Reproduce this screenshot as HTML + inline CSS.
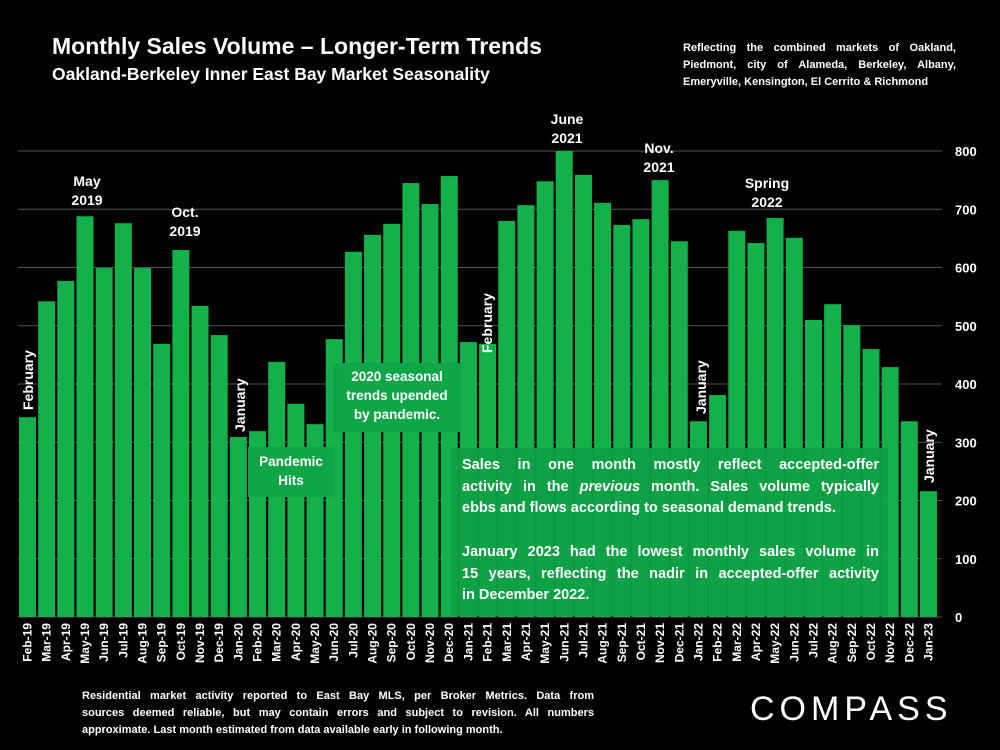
<!DOCTYPE html>
<html><head><meta charset="utf-8">
<style>
body{margin:0;background:#000;width:1000px;height:750px;overflow:hidden;font-family:"Liberation Sans",sans-serif;color:#fff}
svg{position:absolute;left:0;top:0}
.t{position:absolute;font-weight:bold}
.j{text-align:justify;text-align-last:justify;white-space:nowrap}
.l{white-space:nowrap}
</style></head><body>
<div class="t" style="left:52px;top:33px;font-size:23px">Monthly Sales Volume – Longer-Term Trends</div>
<div class="t" style="left:52px;top:64px;font-size:17.5px">Oakland-Berkeley Inner East Bay Market Seasonality</div>
<div class="t" style="left:683px;top:40px;width:273px;font-size:11px;line-height:17px"><div class="j">Reflecting the combined markets of Oakland,</div><div class="j">Piedmont, city of Alameda, Berkeley, Albany,</div><div class="l">Emeryville, Kensington, El Cerrito &amp; Richmond</div></div>
<div class="t" style="left:82px;top:688px;width:512px;font-size:11px;line-height:17px"><div class="j">Residential market activity reported to East Bay MLS, per Broker Metrics. Data from</div><div class="j">sources deemed reliable, but may contain errors and subject to revision. All numbers</div><div class="l">approximate. Last month estimated from data available early in following month.</div></div>
<div class="t" style="left:750px;top:690px;font-size:34px;letter-spacing:5px;font-weight:normal">COMPASS</div>
<svg id="c" width="1000" height="750"></svg>
<script>
const categories=["Feb-19","Mar-19","Apr-19","May-19","Jun-19","Jul-19","Aug-19","Sep-19","Oct-19","Nov-19","Dec-19","Jan-20","Feb-20","Mar-20","Apr-20","May-20","Jun-20","Jul-20","Aug-20","Sep-20","Oct-20","Nov-20","Dec-20","Jan-21","Feb-21","Mar-21","Apr-21","May-21","Jun-21","Jul-21","Aug-21","Sep-21","Oct-21","Nov-21","Dec-21","Jan-22","Feb-22","Mar-22","Apr-22","May-22","Jun-22","Jul-22","Aug-22","Sep-22","Oct-22","Nov-22","Dec-22","Jan-23"];
const sales=[343,542,577,688,599,676,599,469,630,534,484,309,319,438,366,331,477,627,656,675,745,709,757,472,469,680,707,748,800,759,711,673,683,750,645,336,381,663,642,685,651,510,537,501,460,429,336,216];
const yTicks=[0,100,200,300,400,500,600,700,800];
const svg=document.getElementById('c');const NS='http://www.w3.org/2000/svg';
const y0=617,y1=151,yMax=800,x0=19,slot=19.17,bw=17;
const Y=v=>y0-(v/yMax)*(y0-y1);
const X=i=>x0+i*slot;
function mk(t,a,p){const e=document.createElementNS(NS,t);for(const k in a)e.setAttribute(k,a[k]);(p||svg).appendChild(e);return e;}
yTicks.forEach(v=>{
 const l=mk('line',{x1:18,x2:942,y1:Y(v),y2:Y(v),stroke:'#555','stroke-width':1});
 
 
 const t=mk('text',{x:955,y:Y(v)+5,fill:'#fff','font-size':13,'font-weight':'bold','font-family':'Liberation Sans'});
 t.textContent=v;
 
 
});
sales.forEach((v,i)=>{
 const r=mk('rect',{x:X(i),y:Y(v),width:bw,height:y0-Y(v),fill:'#13b04b'});
 
 
 const cx=X(i)+bw/2+4;
 const t=mk('text',{x:cx,y:623,fill:'#fff','font-size':12,'font-weight':'bold','font-family':'Liberation Sans','text-anchor':'end',transform:`rotate(-90 ${cx} 623)`});
 t.textContent=categories[i];
 
 
});
function ann(lines,cx,y,name,rot){
 const g=mk('g',{});
 
 
 lines.forEach((s,k)=>{const t=mk('text',{x:cx,y:y+k*19,fill:'#fff','font-size':14,'font-weight':'bold','font-family':'Liberation Sans','text-anchor':rot?'start':'middle'},g);t.textContent=s;if(rot)t.setAttribute('transform',`rotate(-90 ${cx} ${y})`);});
}
ann(['May','2019'],87,186,'annotation-may-2019');
ann(['Oct.','2019'],185,217,'annotation-oct-2019');
ann(['June','2021'],567,124,'annotation-june-2021');
ann(['Nov.','2021'],659,153,'annotation-nov-2021');
ann(['Spring','2022'],767,188,'annotation-spring-2022');
ann(['February'],33,410,'label-february-2019',1);
ann(['January'],245,432,'label-january-2020',1);
ann(['February'],492,353,'label-february-2021',1);
ann(['January'],706,414,'label-january-2022',1);
ann(['January'],934,483,'label-january-2023',1);
</script>
<div style="position:absolute;left:333px;top:363px;width:128px;height:69px;background:#10a546;font-weight:bold;font-size:13.5px;text-align:center;line-height:19px;padding-top:4px;box-sizing:border-box">2020 seasonal<br>trends upended<br>by pandemic.</div>
<div style="position:absolute;left:248px;top:447px;width:86px;height:50px;background:#10a546;font-weight:bold;font-size:13.5px;text-align:center;line-height:19px;padding-top:5px;box-sizing:border-box">Pandemic<br>Hits</div>
<div style="position:absolute;left:451px;top:448px;width:437px;height:168px;background:rgba(14,160,68,0.95);font-weight:bold;font-size:14.5px;line-height:21.7px;padding:7px 9px 0 11px;box-sizing:border-box">
<div class="j">Sales in one month mostly reflect accepted-offer</div>
<div class="j">activity in the <i>previous</i> month. Sales volume typically</div>
<div class="l">ebbs and flows according to seasonal demand trends.</div>
<div style="height:21.7px"></div>
<div class="j">January 2023 had the lowest monthly sales volume in</div>
<div class="j">15 years, reflecting the nadir in accepted-offer activity</div>
<div class="l">in December 2022.</div></div>
</body></html>
